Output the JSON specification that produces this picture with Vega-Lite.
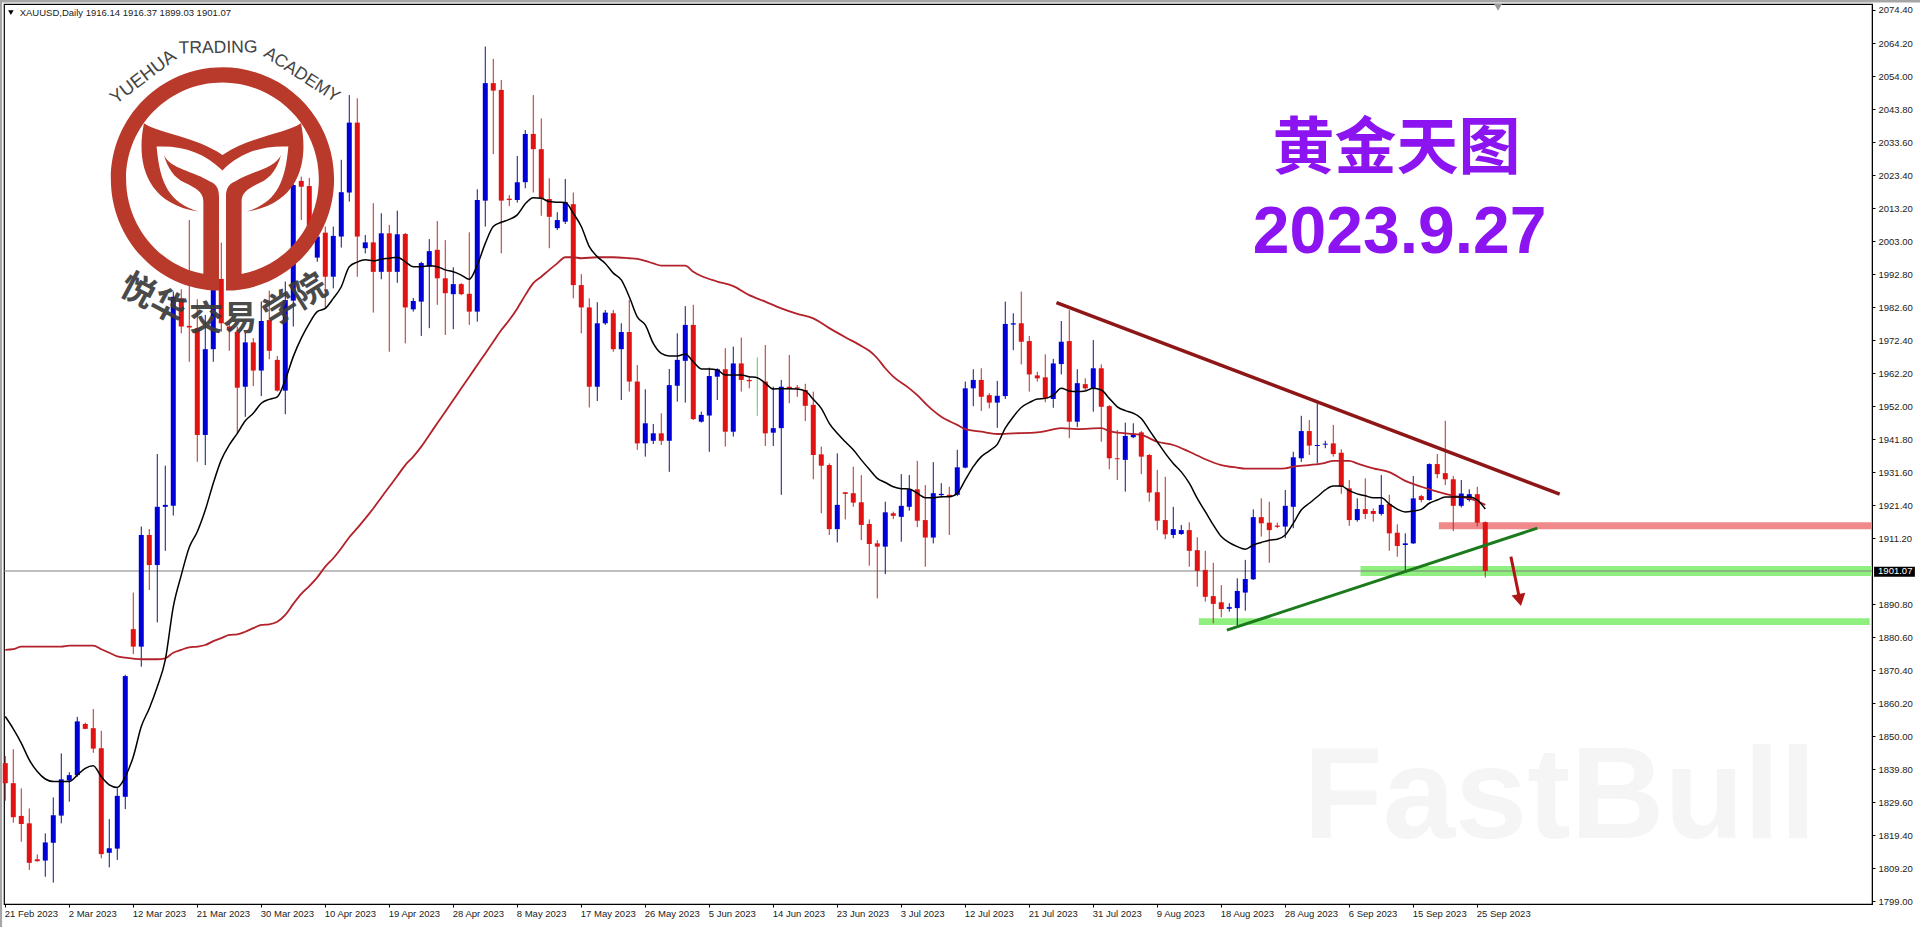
{"$schema":"https://vega.github.io/schema/vega-lite/v6.json","width":1868,"height":900,"autosize":{"type":"none"},"padding":{"left":4,"top":4,"right":48,"bottom":23},"background":"#ffffff","config":{"view":{"stroke":"#000000","strokeWidth":1.2},"font":"Liberation Sans"},
"data":{"values":[{"note":"annotation"}]},
"datasets":{
"candles":[
{"bar":0,"open":1841.7,"high":1843.9,"low":1830.1,"close":1835.5,"dir":"down"},{"bar":1,"open":1835.5,"high":1846.0,"low":1823.3,"close":1825.0,"dir":"down"},{"bar":2,"open":1825.4,"high":1833.9,"low":1817.4,"close":1822.9,"dir":"down"},{"bar":3,"open":1823.1,"high":1827.7,"low":1808.7,"close":1810.9,"dir":"down"},{"bar":4,"open":1812.0,"high":1813.5,"low":1811.3,"close":1811.4,"dir":"down"},{"bar":5,"open":1811.6,"high":1820.0,"low":1806.6,"close":1817.2,"dir":"up"},{"bar":6,"open":1817.1,"high":1831.1,"low":1804.8,"close":1825.6,"dir":"up"},{"bar":7,"open":1825.5,"high":1844.7,"low":1823.1,"close":1836.7,"dir":"up"},{"bar":8,"open":1836.3,"high":1838.9,"low":1829.8,"close":1838.0,"dir":"up"},{"bar":9,"open":1838.0,"high":1856.0,"low":1837.5,"close":1854.6,"dir":"up"},
{"bar":10,"open":1853.8,"high":1854.2,"low":1852.2,"close":1852.3,"dir":"down"},{"bar":11,"open":1852.5,"high":1858.4,"low":1844.9,"close":1846.2,"dir":"down"},{"bar":12,"open":1846.3,"high":1851.7,"low":1812.3,"close":1813.6,"dir":"down"},{"bar":13,"open":1814.0,"high":1824.4,"low":1809.5,"close":1815.4,"dir":"up"},{"bar":14,"open":1815.3,"high":1833.9,"low":1811.8,"close":1831.6,"dir":"up"},{"bar":15,"open":1831.3,"high":1869.0,"low":1827.5,"close":1868.6,"dir":"up"},{"bar":16,"open":1883.1,"high":1894.4,"low":1875.4,"close":1877.7,"dir":"down"},{"bar":17,"open":1877.7,"high":1914.8,"low":1871.5,"close":1912.2,"dir":"up"},{"bar":18,"open":1912.2,"high":1914.0,"low":1895.2,"close":1902.9,"dir":"down"},{"bar":19,"open":1902.9,"high":1937.2,"low":1885.2,"close":1920.9,"dir":"up"},
{"bar":20,"open":1920.9,"high":1933.6,"low":1907.3,"close":1921.5,"dir":"up"},{"bar":21,"open":1921.2,"high":1987.4,"low":1918.2,"close":1985.8,"dir":"up"},{"bar":22,"open":1985.3,"high":1988.1,"low":1974.5,"close":1976.6,"dir":"down"},{"bar":23,"open":1976.8,"high":2009.5,"low":1965.7,"close":1976.3,"dir":"down"},{"bar":24,"open":1976.1,"high":1985.0,"low":1934.8,"close":1943.1,"dir":"down"},{"bar":25,"open":1943.1,"high":1980.2,"low":1933.8,"close":1969.6,"dir":"up"},{"bar":26,"open":1969.6,"high":1988.9,"low":1965.7,"close":1988.4,"dir":"up"},{"bar":27,"open":1991.3,"high":2002.5,"low":1975.0,"close":1977.6,"dir":"down"},{"bar":28,"open":1976.6,"high":1977.7,"low":1969.1,"close":1975.5,"dir":"down"},{"bar":29,"open":1975.0,"high":1976.6,"low":1943.6,"close":1957.7,"dir":"down"},
{"bar":30,"open":1958.0,"high":1974.6,"low":1948.7,"close":1971.7,"dir":"up"},{"bar":31,"open":1971.7,"high":1973.0,"low":1958.2,"close":1963.0,"dir":"down"},{"bar":32,"open":1963.0,"high":1984.3,"low":1955.1,"close":1978.3,"dir":"up"},{"bar":33,"open":1978.6,"high":1987.7,"low":1966.5,"close":1969.1,"dir":"down"},{"bar":34,"open":1966.3,"high":1967.5,"low":1956.5,"close":1956.8,"dir":"down"},{"bar":35,"open":1956.8,"high":1990.5,"low":1949.5,"close":1984.8,"dir":"up"},{"bar":36,"open":1984.6,"high":2020.6,"low":1976.6,"close":2020.3,"dir":"up"},{"bar":37,"open":2021.6,"high":2022.9,"low":2009.5,"close":2019.8,"dir":"down"},{"bar":38,"open":2020.0,"high":2022.5,"low":2003.3,"close":2006.4,"dir":"down"},{"bar":39,"open":1997.9,"high":2008.0,"low":1996.6,"close":2004.4,"dir":"up"},
{"bar":40,"open":2005.6,"high":2007.5,"low":1982.3,"close":1992.0,"dir":"down"},{"bar":41,"open":1992.0,"high":2007.5,"low":1988.4,"close":2004.6,"dir":"up"},{"bar":42,"open":2004.4,"high":2028.1,"low":2001.0,"close":2018.1,"dir":"up"},{"bar":43,"open":2018.0,"high":2048.1,"low":2015.2,"close":2039.6,"dir":"up"},{"bar":44,"open":2039.6,"high":2047.1,"low":1992.0,"close":2004.4,"dir":"down"},{"bar":45,"open":2000.8,"high":2004.9,"low":1999.2,"close":2002.6,"dir":"up"},{"bar":46,"open":2002.6,"high":2014.7,"low":1980.9,"close":1993.5,"dir":"down"},{"bar":47,"open":1993.5,"high":2011.6,"low":1991.2,"close":2005.4,"dir":"up"},{"bar":48,"open":2005.4,"high":2008.0,"low":1968.8,"close":1993.5,"dir":"down"},{"bar":49,"open":1993.5,"high":2012.4,"low":1990.1,"close":2005.1,"dir":"up"},
{"bar":50,"open":2005.2,"high":2005.5,"low":1971.4,"close":1982.5,"dir":"down"},{"bar":51,"open":1981.9,"high":1985.4,"low":1981.2,"close":1984.5,"dir":"up"},{"bar":52,"open":1984.3,"high":1996.6,"low":1973.7,"close":1996.2,"dir":"up"},{"bar":53,"open":1995.1,"high":2003.6,"low":1976.1,"close":1999.9,"dir":"up"},{"bar":54,"open":2000.3,"high":2009.2,"low":1983.3,"close":1991.5,"dir":"down"},{"bar":55,"open":1991.5,"high":2003.3,"low":1974.0,"close":1986.9,"dir":"down"},{"bar":56,"open":1986.6,"high":1994.9,"low":1975.8,"close":1989.7,"dir":"up"},{"bar":57,"open":1989.7,"high":1990.0,"low":1986.3,"close":1986.6,"dir":"down"},{"bar":58,"open":1986.7,"high":2005.7,"low":1977.1,"close":1981.2,"dir":"down"},{"bar":59,"open":1981.2,"high":2019.0,"low":1978.1,"close":2015.7,"dir":"up"},
{"bar":60,"open":2015.5,"high":2063.1,"low":2007.5,"close":2051.8,"dir":"up"},{"bar":61,"open":2051.8,"high":2059.3,"low":2029.9,"close":2049.5,"dir":"down"},{"bar":62,"open":2049.7,"high":2052.8,"low":1999.2,"close":2015.5,"dir":"down"},{"bar":63,"open":2016.1,"high":2017.2,"low":2013.8,"close":2015.7,"dir":"down"},{"bar":64,"open":2015.7,"high":2029.3,"low":2014.9,"close":2021.2,"dir":"up"},{"bar":65,"open":2021.2,"high":2037.3,"low":2019.3,"close":2036.1,"dir":"up"},{"bar":66,"open":2036.1,"high":2048.1,"low":2018.0,"close":2031.4,"dir":"down"},{"bar":67,"open":2031.4,"high":2040.9,"low":2010.8,"close":2016.2,"dir":"down"},{"bar":68,"open":2016.0,"high":2022.4,"low":2000.8,"close":2010.5,"dir":"down"},{"bar":69,"open":2007.0,"high":2011.9,"low":2006.4,"close":2009.5,"dir":"up"},
{"bar":70,"open":2009.0,"high":2022.2,"low":2008.3,"close":2015.0,"dir":"up"},{"bar":71,"open":2014.4,"high":2018.0,"low":1985.3,"close":1989.4,"dir":"down"},{"bar":72,"open":1989.4,"high":1992.8,"low":1974.5,"close":1982.5,"dir":"down"},{"bar":73,"open":1982.5,"high":1985.3,"low":1951.6,"close":1958.0,"dir":"down"},{"bar":74,"open":1958.0,"high":1984.1,"low":1953.6,"close":1977.6,"dir":"up"},{"bar":75,"open":1977.6,"high":1981.7,"low":1977.1,"close":1980.9,"dir":"up"},{"bar":76,"open":1980.7,"high":1981.7,"low":1968.8,"close":1969.6,"dir":"down"},{"bar":77,"open":1969.6,"high":1977.6,"low":1953.9,"close":1974.9,"dir":"up"},{"bar":78,"open":1974.9,"high":1984.8,"low":1956.5,"close":1959.6,"dir":"down"},{"bar":79,"open":1959.6,"high":1964.7,"low":1938.5,"close":1940.5,"dir":"down"},
{"bar":80,"open":1940.5,"high":1957.2,"low":1936.4,"close":1946.7,"dir":"up"},{"bar":81,"open":1941.3,"high":1946.5,"low":1940.3,"close":1943.6,"dir":"up"},{"bar":82,"open":1943.6,"high":1949.8,"low":1940.0,"close":1941.3,"dir":"down"},{"bar":83,"open":1941.3,"high":1963.5,"low":1931.7,"close":1958.5,"dir":"up"},{"bar":84,"open":1958.3,"high":1974.5,"low":1953.4,"close":1966.3,"dir":"up"},{"bar":85,"open":1966.0,"high":1982.9,"low":1953.1,"close":1977.1,"dir":"up"},{"bar":86,"open":1977.1,"high":1983.3,"low":1947.7,"close":1948.0,"dir":"down"},{"bar":87,"open":1947.2,"high":1950.3,"low":1946.9,"close":1949.3,"dir":"up"},{"bar":88,"open":1949.1,"high":1963.9,"low":1937.9,"close":1961.3,"dir":"up"},{"bar":89,"open":1961.1,"high":1963.7,"low":1953.9,"close":1963.4,"dir":"up"},
{"bar":90,"open":1963.4,"high":1969.9,"low":1939.5,"close":1944.1,"dir":"down"},{"bar":91,"open":1944.1,"high":1970.4,"low":1942.6,"close":1965.2,"dir":"up"},{"bar":92,"open":1965.2,"high":1973.2,"low":1956.5,"close":1960.1,"dir":"down"},{"bar":93,"open":1960.1,"high":1961.1,"low":1957.5,"close":1959.7,"dir":"down"},{"bar":94,"open":1959.6,"high":1967.1,"low":1949.0,"close":1959.6,"dir":"flat"},{"bar":95,"open":1959.6,"high":1970.9,"low":1939.7,"close":1943.6,"dir":"down"},{"bar":96,"open":1943.8,"high":1958.0,"low":1939.7,"close":1945.2,"dir":"up"},{"bar":97,"open":1945.2,"high":1960.1,"low":1924.6,"close":1958.0,"dir":"up"},{"bar":98,"open":1958.0,"high":1967.8,"low":1952.9,"close":1957.4,"dir":"down"},{"bar":99,"open":1957.8,"high":1958.5,"low":1954.9,"close":1957.5,"dir":"down"},
{"bar":100,"open":1957.0,"high":1958.9,"low":1947.4,"close":1952.1,"dir":"down"},{"bar":101,"open":1952.4,"high":1956.5,"low":1929.4,"close":1936.9,"dir":"down"},{"bar":102,"open":1937.1,"high":1939.5,"low":1918.9,"close":1933.6,"dir":"down"},{"bar":103,"open":1933.8,"high":1934.3,"low":1912.2,"close":1914.0,"dir":"down"},{"bar":104,"open":1914.0,"high":1937.4,"low":1909.9,"close":1921.5,"dir":"up"},{"bar":105,"open":1925.4,"high":1925.5,"low":1917.0,"close":1924.9,"dir":"down"},{"bar":106,"open":1925.1,"high":1933.3,"low":1920.9,"close":1922.2,"dir":"down"},{"bar":107,"open":1922.3,"high":1930.7,"low":1910.6,"close":1915.3,"dir":"down"},{"bar":108,"open":1915.6,"high":1917.0,"low":1902.7,"close":1909.4,"dir":"down"},{"bar":109,"open":1909.6,"high":1910.6,"low":1892.6,"close":1908.6,"dir":"down"},
{"bar":110,"open":1908.6,"high":1922.5,"low":1900.1,"close":1919.2,"dir":"up"},{"bar":111,"open":1918.9,"high":1919.4,"low":1917.1,"close":1918.1,"dir":"down"},{"bar":112,"open":1917.8,"high":1931.0,"low":1910.1,"close":1921.2,"dir":"up"},{"bar":113,"open":1920.9,"high":1930.7,"low":1919.7,"close":1926.3,"dir":"up"},{"bar":114,"open":1926.3,"high":1935.1,"low":1914.6,"close":1916.6,"dir":"down"},{"bar":115,"open":1916.8,"high":1927.6,"low":1902.4,"close":1911.4,"dir":"down"},{"bar":116,"open":1911.4,"high":1934.7,"low":1909.6,"close":1925.1,"dir":"up"},{"bar":117,"open":1924.5,"high":1928.2,"low":1923.7,"close":1924.9,"dir":"up"},{"bar":118,"open":1924.6,"high":1927.1,"low":1912.2,"close":1924.2,"dir":"down"},{"bar":119,"open":1924.6,"high":1938.5,"low":1924.2,"close":1933.1,"dir":"up"},
{"bar":120,"open":1933.0,"high":1959.6,"low":1932.8,"close":1957.5,"dir":"up"},{"bar":121,"open":1957.5,"high":1963.4,"low":1952.0,"close":1960.1,"dir":"up"},{"bar":122,"open":1960.1,"high":1963.7,"low":1950.5,"close":1954.9,"dir":"down"},{"bar":123,"open":1955.4,"high":1956.0,"low":1951.3,"close":1953.1,"dir":"down"},{"bar":124,"open":1953.1,"high":1959.8,"low":1945.3,"close":1955.2,"dir":"up"},{"bar":125,"open":1955.1,"high":1984.3,"low":1954.2,"close":1977.4,"dir":"up"},{"bar":126,"open":1977.2,"high":1980.7,"low":1969.3,"close":1977.6,"dir":"up"},{"bar":127,"open":1977.6,"high":1987.4,"low":1964.9,"close":1971.9,"dir":"down"},{"bar":128,"open":1972.1,"high":1973.7,"low":1956.5,"close":1961.8,"dir":"down"},{"bar":129,"open":1961.5,"high":1962.6,"low":1959.6,"close":1960.6,"dir":"down"},
{"bar":130,"open":1960.9,"high":1968.0,"low":1953.2,"close":1954.4,"dir":"down"},{"bar":131,"open":1954.2,"high":1966.6,"low":1951.5,"close":1965.2,"dir":"up"},{"bar":132,"open":1965.0,"high":1978.3,"low":1961.8,"close":1971.9,"dir":"up"},{"bar":133,"open":1972.1,"high":1981.7,"low":1942.1,"close":1947.2,"dir":"down"},{"bar":134,"open":1947.2,"high":1963.4,"low":1945.5,"close":1959.1,"dir":"up"},{"bar":135,"open":1958.8,"high":1960.6,"low":1957.0,"close":1957.5,"dir":"down"},{"bar":136,"open":1957.5,"high":1972.4,"low":1950.3,"close":1963.7,"dir":"up"},{"bar":137,"open":1963.7,"high":1964.9,"low":1941.0,"close":1951.8,"dir":"down"},{"bar":138,"open":1952.0,"high":1952.3,"low":1932.5,"close":1935.9,"dir":"down"},{"bar":139,"open":1935.9,"high":1944.6,"low":1929.2,"close":1935.6,"dir":"down"},
{"bar":140,"open":1935.4,"high":1946.9,"low":1925.6,"close":1942.8,"dir":"up"},{"bar":141,"open":1942.4,"high":1946.7,"low":1942.1,"close":1943.3,"dir":"up"},{"bar":142,"open":1943.9,"high":1944.3,"low":1931.0,"close":1936.4,"dir":"down"},{"bar":143,"open":1936.9,"high":1937.2,"low":1922.5,"close":1925.3,"dir":"down"},{"bar":144,"open":1925.4,"high":1932.3,"low":1913.7,"close":1916.6,"dir":"down"},{"bar":145,"open":1916.8,"high":1930.2,"low":1910.9,"close":1912.4,"dir":"down"},{"bar":146,"open":1912.2,"high":1920.9,"low":1911.2,"close":1914.0,"dir":"up"},{"bar":147,"open":1912.5,"high":1915.3,"low":1912.2,"close":1913.7,"dir":"up"},{"bar":148,"open":1913.7,"high":1916.1,"low":1902.4,"close":1907.3,"dir":"down"},{"bar":149,"open":1907.5,"high":1911.5,"low":1896.2,"close":1901.1,"dir":"down"},
{"bar":150,"open":1901.4,"high":1907.3,"low":1891.6,"close":1893.1,"dir":"down"},{"bar":151,"open":1893.3,"high":1903.6,"low":1884.9,"close":1890.9,"dir":"down"},{"bar":152,"open":1891.4,"high":1896.7,"low":1886.8,"close":1889.3,"dir":"down"},{"bar":153,"open":1889.4,"high":1891.1,"low":1888.5,"close":1889.9,"dir":"up"},{"bar":154,"open":1889.6,"high":1898.8,"low":1883.9,"close":1894.9,"dir":"up"},{"bar":155,"open":1894.4,"high":1904.5,"low":1888.8,"close":1898.6,"dir":"up"},{"bar":156,"open":1898.5,"high":1920.1,"low":1898.3,"close":1917.7,"dir":"up"},{"bar":157,"open":1917.7,"high":1923.5,"low":1911.7,"close":1915.8,"dir":"down"},{"bar":158,"open":1916.0,"high":1922.5,"low":1903.6,"close":1913.7,"dir":"down"},{"bar":159,"open":1915.1,"high":1916.0,"low":1914.3,"close":1914.7,"dir":"down"},
{"bar":160,"open":1914.8,"high":1926.1,"low":1911.2,"close":1921.2,"dir":"up"},{"bar":161,"open":1920.9,"high":1937.9,"low":1914.3,"close":1936.2,"dir":"up"},{"bar":162,"open":1935.9,"high":1949.0,"low":1934.8,"close":1944.3,"dir":"up"},{"bar":163,"open":1944.3,"high":1947.7,"low":1936.9,"close":1939.8,"dir":"down"},{"bar":164,"open":1939.7,"high":1952.9,"low":1934.3,"close":1940.0,"dir":"up"},{"bar":165,"open":1940.1,"high":1941.3,"low":1939.0,"close":1940.4,"dir":"up"},{"bar":166,"open":1940.5,"high":1946.2,"low":1936.4,"close":1937.2,"dir":"down"},{"bar":167,"open":1937.6,"high":1938.7,"low":1924.9,"close":1927.1,"dir":"down"},{"bar":168,"open":1926.6,"high":1929.2,"low":1915.0,"close":1916.8,"dir":"down"},{"bar":169,"open":1916.8,"high":1923.5,"low":1916.3,"close":1920.2,"dir":"up"},
{"bar":170,"open":1920.2,"high":1929.7,"low":1917.1,"close":1918.7,"dir":"down"},{"bar":171,"open":1919.6,"high":1920.4,"low":1916.3,"close":1918.7,"dir":"down"},{"bar":172,"open":1918.7,"high":1930.7,"low":1918.2,"close":1921.5,"dir":"up"},{"bar":173,"open":1921.8,"high":1924.6,"low":1907.3,"close":1912.7,"dir":"down"},{"bar":174,"open":1912.9,"high":1915.5,"low":1905.5,"close":1908.8,"dir":"down"},{"bar":175,"open":1909.1,"high":1912.7,"low":1900.9,"close":1909.6,"dir":"up"},{"bar":176,"open":1909.6,"high":1930.4,"low":1909.4,"close":1923.5,"dir":"up"},{"bar":177,"open":1924.2,"high":1924.6,"low":1922.3,"close":1923.0,"dir":"down"},{"bar":178,"open":1923.0,"high":1934.3,"low":1922.8,"close":1934.1,"dir":"up"},{"bar":179,"open":1934.1,"high":1937.2,"low":1929.7,"close":1931.0,"dir":"down"},
{"bar":180,"open":1931.3,"high":1947.5,"low":1927.6,"close":1929.4,"dir":"down"},{"bar":181,"open":1929.4,"high":1930.4,"low":1913.4,"close":1921.2,"dir":"down"},{"bar":182,"open":1921.2,"high":1929.2,"low":1920.7,"close":1925.0,"dir":"up"},{"bar":183,"open":1923.0,"high":1926.3,"low":1922.5,"close":1924.8,"dir":"up"},{"bar":184,"open":1924.8,"high":1927.1,"low":1914.8,"close":1916.0,"dir":"down"},{"bar":185,"open":1916.14,"high":1916.37,"low":1899.03,"close":1901.07,"dir":"down"}
],
"maFast":[{"bar":0,"price":1856.1},{"bar":1,"price":1852.3},{"bar":2,"price":1847.9},{"bar":3,"price":1842.7},{"bar":4,"price":1839.1},{"bar":5,"price":1836.8},{"bar":6,"price":1836.0},{"bar":7,"price":1836.0},{"bar":8,"price":1836.0},{"bar":9,"price":1838.0},{"bar":10,"price":1840.1},{"bar":11,"price":1840.9},{"bar":12,"price":1837.5},{"bar":13,"price":1835.0},{"bar":14,"price":1834.2},{"bar":15,"price":1837.5},{"bar":16,"price":1843.7},{"bar":17,"price":1853.0},{"bar":18,"price":1858.6},{"bar":19,"price":1865.3},{"bar":20,"price":1873.6},{"bar":21,"price":1890.0},{"bar":22,"price":1899.8},{"bar":23,"price":1908.4},{"bar":24,"price":1913.2},{"bar":25,"price":1919.9},{"bar":26,"price":1928.2},{"bar":27,"price":1935.4},{"bar":28,"price":1940.0},{"bar":29,"price":1943.6},{"bar":30,"price":1947.5},{"bar":31,"price":1949.8},{"bar":32,"price":1952.9},{"bar":33,"price":1954.1},{"bar":34,"price":1954.9},{"bar":35,"price":1960.1},{"bar":36,"price":1967.3},{"bar":37,"price":1973.0},{"bar":38,"price":1977.6},{"bar":39,"price":1981.2},{"bar":40,"price":1982.2},{"bar":41,"price":1985.3},{"bar":42,"price":1988.9},{"bar":43,"price":1995.1},{"bar":44,"price":1996.5},{"bar":45,"price":1997.2},{"bar":46,"price":1996.9},{"bar":47,"price":1997.4},{"bar":48,"price":1997.7},{"bar":49,"price":1998.0},{"bar":50,"price":1996.6},{"bar":51,"price":1995.1},{"bar":52,"price":1995.1},{"bar":53,"price":1995.4},{"bar":54,"price":1995.1},{"bar":55,"price":1994.1},{"bar":56,"price":1993.5},{"bar":57,"price":1992.5},{"bar":58,"price":1991.2},{"bar":59,"price":1995.6},{"bar":60,"price":2002.3},{"bar":61,"price":2007.5},{"bar":62,"price":2008.8},{"bar":63,"price":2009.7},{"bar":64,"price":2011.1},{"bar":65,"price":2014.5},{"bar":66,"price":2016.4},{"bar":67,"price":2016.2},{"bar":68,"price":2015.2},{"bar":69,"price":2015.0},{"bar":70,"price":2014.9},{"bar":71,"price":2011.6},{"bar":72,"price":2007.5},{"bar":73,"price":2001.3},{"bar":74,"price":1998.2},{"bar":75,"price":1996.1},{"bar":76,"price":1993.1},{"bar":77,"price":1991.0},{"bar":78,"price":1985.8},{"bar":79,"price":1979.6},{"bar":80,"price":1977.1},{"bar":81,"price":1971.4},{"bar":82,"price":1968.3},{"bar":83,"price":1967.5},{"bar":84,"price":1967.5},{"bar":85,"price":1968.1},{"bar":86,"price":1965.7},{"bar":87,"price":1963.5},{"bar":88,"price":1963.5},{"bar":89,"price":1963.2},{"bar":90,"price":1961.6},{"bar":91,"price":1961.6},{"bar":92,"price":1961.6},{"bar":93,"price":1961.1},{"bar":94,"price":1960.8},{"bar":95,"price":1959.1},{"bar":96,"price":1957.3},{"bar":97,"price":1957.4},{"bar":98,"price":1957.4},{"bar":99,"price":1957.3},{"bar":100,"price":1956.7},{"bar":101,"price":1954.1},{"bar":102,"price":1951.3},{"bar":103,"price":1946.7},{"bar":104,"price":1943.6},{"bar":105,"price":1941.0},{"bar":106,"price":1938.5},{"bar":107,"price":1935.4},{"bar":108,"price":1932.5},{"bar":109,"price":1929.7},{"bar":110,"price":1928.4},{"bar":111,"price":1927.1},{"bar":112,"price":1926.5},{"bar":113,"price":1926.4},{"bar":114,"price":1925.1},{"bar":115,"price":1923.7},{"bar":116,"price":1923.7},{"bar":117,"price":1924.0},{"bar":118,"price":1924.0},{"bar":119,"price":1925.1},{"bar":120,"price":1929.2},{"bar":121,"price":1933.3},{"bar":122,"price":1936.4},{"bar":123,"price":1938.2},{"bar":124,"price":1940.2},{"bar":125,"price":1945.2},{"bar":126,"price":1948.7},{"bar":127,"price":1951.6},{"bar":128,"price":1953.1},{"bar":129,"price":1954.2},{"bar":130,"price":1954.4},{"bar":131,"price":1955.4},{"bar":132,"price":1957.5},{"bar":133,"price":1956.7},{"bar":134,"price":1956.5},{"bar":135,"price":1956.7},{"bar":136,"price":1957.5},{"bar":137,"price":1957.0},{"bar":138,"price":1954.4},{"bar":139,"price":1951.8},{"bar":140,"price":1950.6},{"bar":141,"price":1949.8},{"bar":142,"price":1948.2},{"bar":143,"price":1944.6},{"bar":144,"price":1941.0},{"bar":145,"price":1937.4},{"bar":146,"price":1934.3},{"bar":147,"price":1931.7},{"bar":148,"price":1928.2},{"bar":149,"price":1923.5},{"bar":150,"price":1919.4},{"bar":151,"price":1915.3},{"bar":152,"price":1911.7},{"bar":153,"price":1909.8},{"bar":154,"price":1908.6},{"bar":155,"price":1907.8},{"bar":156,"price":1909.1},{"bar":157,"price":1909.9},{"bar":158,"price":1910.6},{"bar":159,"price":1910.9},{"bar":160,"price":1912.2},{"bar":161,"price":1915.8},{"bar":162,"price":1919.9},{"bar":163,"price":1922.0},{"bar":164,"price":1924.0},{"bar":165,"price":1926.1},{"bar":166,"price":1927.3},{"bar":167,"price":1927.3},{"bar":168,"price":1925.9},{"bar":169,"price":1924.9},{"bar":170,"price":1924.3},{"bar":171,"price":1923.7},{"bar":172,"price":1923.7},{"bar":173,"price":1921.8},{"bar":174,"price":1920.2},{"bar":175,"price":1919.3},{"bar":176,"price":1919.6},{"bar":177,"price":1920.1},{"bar":178,"price":1922.0},{"bar":179,"price":1923.0},{"bar":180,"price":1923.9},{"bar":181,"price":1923.9},{"bar":182,"price":1923.9},{"bar":183,"price":1923.9},{"bar":184,"price":1923.0},{"bar":185,"price":1920.2}],
"maSlow":[{"bar":0,"price":1876.7},{"bar":1,"price":1876.9},{"bar":2,"price":1877.7},{"bar":4,"price":1877.7},{"bar":7,"price":1877.7},{"bar":8,"price":1878.0},{"bar":11,"price":1878.0},{"bar":12,"price":1876.9},{"bar":13,"price":1875.8},{"bar":14,"price":1874.7},{"bar":15,"price":1874.3},{"bar":16,"price":1874.0},{"bar":17,"price":1873.8},{"bar":19,"price":1873.8},{"bar":20,"price":1874.1},{"bar":21,"price":1875.8},{"bar":22,"price":1876.7},{"bar":23,"price":1877.5},{"bar":24,"price":1877.7},{"bar":25,"price":1878.2},{"bar":26,"price":1879.4},{"bar":27,"price":1880.3},{"bar":28,"price":1881.3},{"bar":29,"price":1881.5},{"bar":30,"price":1882.3},{"bar":31,"price":1883.4},{"bar":32,"price":1884.4},{"bar":33,"price":1884.6},{"bar":34,"price":1885.4},{"bar":35,"price":1887.5},{"bar":36,"price":1890.9},{"bar":37,"price":1894.0},{"bar":38,"price":1896.4},{"bar":39,"price":1899.1},{"bar":40,"price":1902.4},{"bar":41,"price":1905.0},{"bar":42,"price":1908.1},{"bar":43,"price":1911.5},{"bar":44,"price":1914.3},{"bar":45,"price":1917.3},{"bar":46,"price":1920.4},{"bar":47,"price":1923.8},{"bar":48,"price":1927.1},{"bar":49,"price":1930.4},{"bar":50,"price":1933.8},{"bar":51,"price":1936.4},{"bar":52,"price":1939.5},{"bar":53,"price":1943.1},{"bar":54,"price":1946.7},{"bar":55,"price":1950.3},{"bar":56,"price":1953.9},{"bar":57,"price":1957.5},{"bar":58,"price":1961.1},{"bar":59,"price":1964.7},{"bar":60,"price":1968.3},{"bar":61,"price":1971.9},{"bar":62,"price":1975.5},{"bar":63,"price":1978.6},{"bar":64,"price":1982.2},{"bar":65,"price":1986.3},{"bar":66,"price":1990.0},{"bar":67,"price":1992.0},{"bar":68,"price":1994.1},{"bar":69,"price":1996.1},{"bar":70,"price":1998.0},{"bar":71,"price":1998.0},{"bar":72,"price":1997.7},{"bar":74,"price":1998.0},{"bar":76,"price":1998.0},{"bar":78,"price":1997.7},{"bar":79,"price":1997.5},{"bar":80,"price":1996.9},{"bar":81,"price":1996.1},{"bar":82,"price":1995.4},{"bar":85,"price":1995.4},{"bar":86,"price":1993.5},{"bar":87,"price":1992.2},{"bar":89,"price":1990.5},{"bar":91,"price":1989.1},{"bar":93,"price":1986.3},{"bar":95,"price":1984.3},{"bar":97,"price":1982.2},{"bar":99,"price":1980.5},{"bar":101,"price":1979.1},{"bar":103,"price":1976.1},{"bar":105,"price":1973.3},{"bar":107,"price":1970.6},{"bar":108,"price":1969.1},{"bar":109,"price":1966.8},{"bar":110,"price":1963.7},{"bar":111,"price":1961.1},{"bar":113,"price":1957.5},{"bar":114,"price":1955.4},{"bar":115,"price":1952.9},{"bar":116,"price":1950.6},{"bar":117,"price":1948.7},{"bar":119,"price":1946.2},{"bar":120,"price":1944.9},{"bar":122,"price":1944.1},{"bar":124,"price":1943.4},{"bar":126,"price":1943.6},{"bar":129,"price":1943.9},{"bar":130,"price":1944.3},{"bar":132,"price":1945.2},{"bar":134,"price":1944.9},{"bar":137,"price":1945.2},{"bar":138,"price":1944.3},{"bar":140,"price":1943.6},{"bar":142,"price":1943.1},{"bar":144,"price":1941.0},{"bar":146,"price":1940.0},{"bar":148,"price":1937.9},{"bar":150,"price":1935.6},{"bar":152,"price":1933.8},{"bar":154,"price":1933.0},{"bar":155,"price":1932.7},{"bar":159,"price":1932.7},{"bar":160,"price":1932.8},{"bar":161,"price":1933.3},{"bar":163,"price":1933.8},{"bar":165,"price":1934.5},{"bar":166,"price":1935.1},{"bar":168,"price":1935.1},{"bar":169,"price":1934.3},{"bar":171,"price":1932.8},{"bar":173,"price":1931.6},{"bar":175,"price":1928.9},{"bar":177,"price":1927.1},{"bar":179,"price":1925.6},{"bar":181,"price":1924.3},{"bar":183,"price":1923.5},{"bar":185,"price":1921.5}],
"resistance":[{"bar":131.4,"price":1984.0},{"bar":194.3,"price":1924.8}],
"support":[{"bar":152.7,"price":1882.8},{"bar":191.5,"price":1914.3}],
"arrow":[{"bar":188.2,"price":1905.5},{"bar":189.2,"price":1893.5}],
"zones":[{"name":"resistance zone","bar":179.2,"bar2":233.34,"lo":1914.0,"hi":1916.1},{"name":"support zone","bar":169.4,"bar2":233.34,"lo":1899.5,"hi":1902.6},{"name":"lower support zone","bar":149.2,"bar2":233.05,"lo":1884.4,"hi":1886.5}],
"windowFrame":[{"bar":-0.66,"bar2":240,"lo":2076.7,"hi":2077.5},{"bar":-0.66,"bar2":-0.4,"lo":1790,"hi":2077.5}]
},
"layer":[
{"data":{"name":"windowFrame"},"mark":{"type":"rect","fill":"#a6a6a6"},"encoding":{"x":{"field":"bar","type":"quantitative","scale":{"domain":[-0.16,233.34],"nice":false,"zero":false}},"x2":{"field":"bar2"},"y":{"field":"lo","type":"quantitative","scale":{"domain":[1798.18,2076.25],"nice":false,"zero":false}},"y2":{"field":"hi"}}},
{"mark":{"type":"text","text":"FastBull","font":"Liberation Sans","fontWeight":"bold","fontSize":130,"fill":"#f5f5f5","align":"center","baseline":"alphabetic"},"encoding":{"x":{"datum":194.3,"type":"quantitative","scale":{"domain":[-0.16,233.34],"nice":false,"zero":false}},"y":{"datum":1818.6,"type":"quantitative","scale":{"domain":[1798.18,2076.25],"nice":false,"zero":false}}}},
{"data":{"name":"zones"},"mark":{"type":"rect"},"encoding":{"x":{"field":"bar","type":"quantitative","scale":{"domain":[-0.16,233.34],"nice":false,"zero":false}},"x2":{"field":"bar2"},"y":{"field":"lo","type":"quantitative","scale":{"domain":[1798.18,2076.25],"nice":false,"zero":false}},"y2":{"field":"hi"},"fill":{"field":"name","type":"nominal","legend":null,"scale":{"domain":["resistance zone","support zone","lower support zone"],"range":["#f08a8a","#8ff07f","#8ff07f"]}}}},
{"mark":{"type":"rule","stroke":"#808080","strokeWidth":1},"encoding":{"y":{"datum":1901.07,"type":"quantitative","scale":{"domain":[1798.18,2076.25],"nice":false,"zero":false}}}},
{"data":{"name":"candles"},"mark":{"type":"rule","strokeWidth":1},"encoding":{"x":{"field":"bar","type":"quantitative","scale":{"domain":[-0.16,233.34],"nice":false,"zero":false},"axis":{"title":null,"grid":false,"orient":"bottom","values":[0,8,16,24,32,40,48,56,64,72,80,88,96,104,112,120,128,136,144,152,160,168,176,184],"tickCount":100,"labelExpr":"['21 Feb 2023','2 Mar 2023','12 Mar 2023','21 Mar 2023','30 Mar 2023','10 Apr 2023','19 Apr 2023','28 Apr 2023','8 May 2023','17 May 2023','26 May 2023','5 Jun 2023','14 Jun 2023','23 Jun 2023','3 Jul 2023','12 Jul 2023','21 Jul 2023','31 Jul 2023','9 Aug 2023','18 Aug 2023','28 Aug 2023','6 Sep 2023','15 Sep 2023','25 Sep 2023'][datum.value/8]","labelAlign":"left","labelBaseline":"top","labelOffset":-1,"labelPadding":1,"labelFont":"Liberation Sans","labelFontSize":9.5,"labelColor":"#222222","labelOverlap":false,"labelBound":false,"labelFlush":false,"labelAngle":0,"tickColor":"#000000","tickSize":3,"domainColor":"#000000"}},"y":{"field":"low","type":"quantitative","scale":{"domain":[1798.18,2076.25],"nice":false,"zero":false},"axis":{"title":null,"grid":false,"orient":"right","values":[2074.4,2064.2,2054,2043.8,2033.6,2023.4,2013.2,2003,1992.8,1982.6,1972.4,1962.2,1952,1941.8,1931.6,1921.4,1911.2,1890.8,1880.6,1870.4,1860.2,1850,1839.8,1829.6,1819.4,1809.2,1799],"tickCount":100,"format":".2f","labelFont":"Liberation Sans","labelFontSize":9.5,"labelColor":"#222222","labelPadding":3,"labelOverlap":false,"labelBound":false,"labelFlush":false,"tickColor":"#000000","tickSize":3,"domainColor":"#000000"}},"y2":{"field":"high"},"stroke":{"field":"dir","type":"nominal","legend":null,"scale":{"domain":["up","down","flat"],"range":["#12127e","#bb2a2a","#4fd04f"]}}}},
{"data":{"name":"candles"},"mark":{"type":"bar","size":5,"orient":"vertical"},"encoding":{"x":{"field":"bar","type":"quantitative","scale":{"domain":[-0.16,233.34],"nice":false,"zero":false,"padding":0}},"y":{"field":"open","type":"quantitative","scale":{"domain":[1798.18,2076.25],"nice":false,"zero":false}},"y2":{"field":"close"},"color":{"field":"dir","type":"nominal","legend":null,"scale":{"domain":["up","down","flat"],"range":["#0000d8","#e01212","#4fd04f"]}}}},
{"data":{"name":"maSlow"},"mark":{"type":"line","stroke":"#b3212a","strokeWidth":1.8,"interpolate":"monotone"},"encoding":{"x":{"field":"bar","type":"quantitative","scale":{"domain":[-0.16,233.34],"nice":false,"zero":false}},"y":{"field":"price","type":"quantitative","scale":{"domain":[1798.18,2076.25],"nice":false,"zero":false}}}},
{"data":{"name":"maFast"},"mark":{"type":"line","stroke":"#000000","strokeWidth":1.5,"interpolate":"monotone"},"encoding":{"x":{"field":"bar","type":"quantitative","scale":{"domain":[-0.16,233.34],"nice":false,"zero":false}},"y":{"field":"price","type":"quantitative","scale":{"domain":[1798.18,2076.25],"nice":false,"zero":false}}}},
{"data":{"name":"resistance"},"mark":{"type":"line","stroke":"#8e1616","strokeWidth":3.5},"encoding":{"x":{"field":"bar","type":"quantitative","scale":{"domain":[-0.16,233.34],"nice":false,"zero":false}},"y":{"field":"price","type":"quantitative","scale":{"domain":[1798.18,2076.25],"nice":false,"zero":false}}}},
{"data":{"name":"support"},"mark":{"type":"line","stroke":"#1b7a1b","strokeWidth":3},"encoding":{"x":{"field":"bar","type":"quantitative","scale":{"domain":[-0.16,233.34],"nice":false,"zero":false}},"y":{"field":"price","type":"quantitative","scale":{"domain":[1798.18,2076.25],"nice":false,"zero":false}}}},
{"data":{"name":"arrow"},"mark":{"type":"line","stroke":"#b01414","strokeWidth":3},"encoding":{"x":{"field":"bar","type":"quantitative","scale":{"domain":[-0.16,233.34],"nice":false,"zero":false}},"y":{"field":"price","type":"quantitative","scale":{"domain":[1798.18,2076.25],"nice":false,"zero":false}}}},
{"mark":{"type":"point","shape":"triangle-down","filled":true,"size":196,"angle":-12,"fill":"#b01414","opacity":1},"encoding":{"x":{"datum":189.3,"type":"quantitative","scale":{"domain":[-0.16,233.34],"nice":false,"zero":false}},"y":{"datum":1892.1,"type":"quantitative","scale":{"domain":[1798.18,2076.25],"nice":false,"zero":false}}}},
{"mark":{"type":"point","shape":"triangle-down","filled":true,"size":60,"fill":"#999999","opacity":1},"encoding":{"x":{"datum":186.6,"type":"quantitative","scale":{"domain":[-0.16,233.34],"nice":false,"zero":false}},"y":{"datum":2075.2,"type":"quantitative","scale":{"domain":[1798.18,2076.25],"nice":false,"zero":false}}}},
{"mark":{"type":"point","shape":"triangle-down","filled":true,"size":30,"fill":"#000000","opacity":1},"encoding":{"x":{"datum":0.7,"type":"quantitative","scale":{"domain":[-0.16,233.34],"nice":false,"zero":false}},"y":{"datum":2073.6,"type":"quantitative","scale":{"domain":[1798.18,2076.25],"nice":false,"zero":false}}}},
{"mark":{"type":"text","text":"XAUUSD,Daily  1916.14 1916.37 1899.03 1901.07","font":"Liberation Sans","fontSize":9.5,"fill":"#222222","align":"left","baseline":"middle"},"encoding":{"x":{"datum":1.8,"type":"quantitative","scale":{"domain":[-0.16,233.34],"nice":false,"zero":false}},"y":{"datum":2073.6,"type":"quantitative","scale":{"domain":[1798.18,2076.25],"nice":false,"zero":false}}}},
{"data":{"values":[{"bar":233.6,"bar2":238.7,"lo":1899.3,"hi":1902.4}]},"mark":{"type":"rect","fill":"#000000"},"encoding":{"x":{"field":"bar","type":"quantitative","scale":{"domain":[-0.16,233.34],"nice":false,"zero":false}},"x2":{"field":"bar2"},"y":{"field":"lo","type":"quantitative","scale":{"domain":[1798.18,2076.25],"nice":false,"zero":false}},"y2":{"field":"hi"}}},
{"mark":{"type":"text","text":"1901.07","font":"Liberation Sans","fontSize":9.5,"fill":"#ffffff","align":"left","baseline":"middle"},"encoding":{"x":{"datum":234.1,"type":"quantitative","scale":{"domain":[-0.16,233.34],"nice":false,"zero":false}},"y":{"datum":1901.07,"type":"quantitative","scale":{"domain":[1798.18,2076.25],"nice":false,"zero":false}}}},
{"mark":{"type":"text","text":"黄金天图","font":"Noto Sans CJK SC","fontWeight":"bold","fontSize":62,"fill":"#8c14f0","align":"center","baseline":"middle"},"encoding":{"x":{"datum":173.9,"type":"quantitative","scale":{"domain":[-0.16,233.34],"nice":false,"zero":false}},"y":{"datum":2031.0,"type":"quantitative","scale":{"domain":[1798.18,2076.25],"nice":false,"zero":false}}}},
{"mark":{"type":"text","text":"2023.9.27","font":"Liberation Sans","fontWeight":"bold","fontSize":66,"fill":"#8c14f0","align":"center","baseline":"middle"},"encoding":{"x":{"datum":174.3,"type":"quantitative","scale":{"domain":[-0.16,233.34],"nice":false,"zero":false}},"y":{"datum":2005.6,"type":"quantitative","scale":{"domain":[1798.18,2076.25],"nice":false,"zero":false}}}},
{"mark":{"type":"point","shape":"M-0.028 0.893 C-0.5 0.893 -0.893 0.493 -0.893 0 C-0.893 -0.493 -0.493 -0.893 0 -0.893 C0.493 -0.893 0.893 -0.493 0.893 0 C0.893 0.493 0.5 0.893 0.028 0.893 L0.028 0.771 C0.43 0.771 0.771 0.426 0.771 0 C0.771 -0.426 0.426 -0.771 0 -0.771 C-0.426 -0.771 -0.771 -0.426 -0.771 0 C-0.771 0.426 -0.43 0.771 -0.028 0.771 Z M-0.628 -0.445 C-0.5 -0.36 -0.22 -0.34 0 -0.192 C0.22 -0.34 0.5 -0.36 0.628 -0.445 C0.68 -0.2 0.66 0.19 0.193 0.261 C0.42 0.19 0.5 0.05 0.527 -0.259 C0.32 -0.27 0.14 -0.21 0 -0.067 C-0.14 -0.21 -0.32 -0.27 -0.527 -0.259 C-0.5 0.05 -0.42 0.19 -0.193 0.261 C-0.66 0.19 -0.68 -0.2 -0.628 -0.445 Z M-0.468 -0.192 C-0.42 -0.08 -0.22 -0.06 -0.1 0.021 C-0.05 0.04 -0.028 0.08 -0.028 0.141 L-0.028 0.8 C-0.03 0.86 -0.05 0.89 -0.08 0.89 L-0.153 0.768 L-0.153 0.18 C-0.153 0.1 -0.22 0.07 -0.3 0.03 C-0.39 -0.01 -0.44 -0.09 -0.468 -0.192 Z M0.468 -0.192 C0.44 -0.09 0.39 -0.01 0.3 0.03 C0.22 0.07 0.153 0.1 0.153 0.18 L0.153 0.768 L0.08 0.89 C0.05 0.89 0.03 0.86 0.028 0.8 L0.028 0.141 C0.028 0.08 0.05 0.04 0.1 0.021 C0.22 -0.06 0.42 -0.08 0.468 -0.192 Z","filled":true,"size":62500,"fill":"#b93a2b","opacity":1},"encoding":{"x":{"datum":27.15,"type":"quantitative","scale":{"domain":[-0.16,233.34],"nice":false,"zero":false}},"y":{"datum":2022.2,"type":"quantitative","scale":{"domain":[1798.18,2076.25],"nice":false,"zero":false}}}},
{"mark":{"type":"text","text":"YUEHUA","font":"Liberation Sans","fontSize":18.5,"angle":-37,"fill":"#444444","align":"center","baseline":"middle"},"encoding":{"x":{"datum":17.2,"type":"quantitative","scale":{"domain":[-0.16,233.34],"nice":false,"zero":false}},"y":{"datum":2053.8,"type":"quantitative","scale":{"domain":[1798.18,2076.25],"nice":false,"zero":false}}}},
{"mark":{"type":"text","text":"TRADING","font":"Liberation Sans","fontSize":17.5,"angle":-1,"fill":"#444444","align":"center","baseline":"middle"},"encoding":{"x":{"datum":26.6,"type":"quantitative","scale":{"domain":[-0.16,233.34],"nice":false,"zero":false}},"y":{"datum":2062.7,"type":"quantitative","scale":{"domain":[1798.18,2076.25],"nice":false,"zero":false}}}},
{"mark":{"type":"text","text":"ACADEMY","font":"Liberation Sans","fontSize":17.5,"angle":33,"fill":"#444444","align":"center","baseline":"middle"},"encoding":{"x":{"datum":37.05,"type":"quantitative","scale":{"domain":[-0.16,233.34],"nice":false,"zero":false}},"y":{"datum":2054.3,"type":"quantitative","scale":{"domain":[1798.18,2076.25],"nice":false,"zero":false}}}},
{"mark":{"type":"text","text":"悦华","font":"Noto Sans CJK SC","fontWeight":"bold","fontSize":34,"angle":28,"fill":"#3b3b3b","opacity":0.92,"align":"center","baseline":"middle"},"encoding":{"x":{"datum":18.4,"type":"quantitative","scale":{"domain":[-0.16,233.34],"nice":false,"zero":false}},"y":{"datum":1984.8,"type":"quantitative","scale":{"domain":[1798.18,2076.25],"nice":false,"zero":false}}}},
{"mark":{"type":"text","text":"交易","font":"Noto Sans CJK SC","fontWeight":"bold","fontSize":34,"angle":0,"fill":"#3b3b3b","opacity":0.92,"align":"center","baseline":"middle"},"encoding":{"x":{"datum":27.2,"type":"quantitative","scale":{"domain":[-0.16,233.34],"nice":false,"zero":false}},"y":{"datum":1978.6,"type":"quantitative","scale":{"domain":[1798.18,2076.25],"nice":false,"zero":false}}}},
{"mark":{"type":"text","text":"学院","font":"Noto Sans CJK SC","fontWeight":"bold","fontSize":34,"angle":-32,"fill":"#3b3b3b","opacity":0.92,"align":"center","baseline":"middle"},"encoding":{"x":{"datum":36.3,"type":"quantitative","scale":{"domain":[-0.16,233.34],"nice":false,"zero":false}},"y":{"datum":1984.5,"type":"quantitative","scale":{"domain":[1798.18,2076.25],"nice":false,"zero":false}}}}
]}
